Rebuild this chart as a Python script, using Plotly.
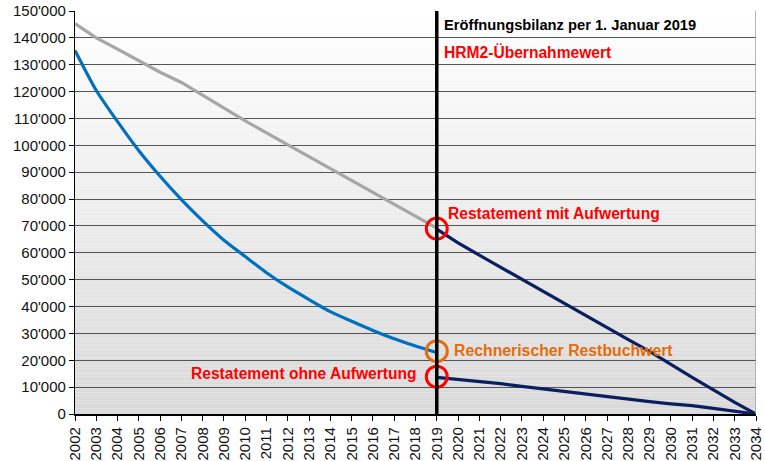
import plotly.graph_objects as go

# ---------------- data ----------------
years_hist = list(range(2002, 2020))
years_fut = list(range(2019, 2035))
x_tick_labels = [str(y) for y in range(2002, 2035)]
y_tick_vals = list(range(0, 150001, 10000))
y_tick_labels = ["0", "10'000", "20'000", "30'000", "40'000", "50'000", "60'000", "70'000",
                 "80'000", "90'000", "100'000", "110'000", "120'000", "130'000", "140'000", "150'000"]

grey_hist = [145300, 140000, 135800, 131500, 127200, 123400, 118600, 113900, 109100,
             104600, 100200, 95800, 91400, 86900, 82500, 78100, 73600, 69200]
blue_hist = [135300, 120400, 108800, 98000, 88500, 79800, 71900, 64700, 58600,
             52600, 47300, 42600, 38100, 34500, 31100, 28000, 25300, 22900]
navy_upper = [68800, 63700, 59100, 54600, 50000, 45400, 41000, 36400, 32000,
              27700, 23300, 18300, 13600, 9000, 4300, 0]
navy_lower = [13600, 12900, 12150, 11300, 10300, 9300, 8400, 7400, 6400,
              5600, 4600, 3800, 3100, 2100, 1200, 0]

circle_years = [2019, 2019, 2019]
circle_values = [69000, 23400, 13900]
circle_colors = ["#FF0000", "#E46C0A", "#FF0000"]

FONT = "Liberation Sans, Arial, sans-serif"
NAVY = "#0B1F5E"

fig = go.Figure()

fig.add_trace(go.Scatter(x=years_hist, y=grey_hist, mode="lines",
                         line=dict(color="#A6A6A6", width=3.2), hoverinfo="skip"))
fig.add_trace(go.Scatter(x=years_hist, y=blue_hist, mode="lines",
                         line=dict(color="#0070C0", width=3.2, shape="spline", smoothing=0.6),
                         hoverinfo="skip"))
fig.add_trace(go.Scatter(x=years_fut, y=navy_upper, mode="lines",
                         line=dict(color=NAVY, width=3.2), hoverinfo="skip"))
fig.add_trace(go.Scatter(x=years_fut, y=navy_lower, mode="lines",
                         line=dict(color=NAVY, width=3.2), hoverinfo="skip"))
fig.add_trace(go.Scatter(x=circle_years, y=circle_values, mode="markers",
                         marker=dict(symbol="circle-open", size=21, color=circle_colors,
                                     line=dict(width=3, color=circle_colors)),
                         cliponaxis=False, hoverinfo="skip"))

# gradient background (white at top -> light grey at bottom)
shapes = []
N = 150
ymax = 150000
for i in range(N):
    y0 = ymax * i / N
    y1 = ymax * (i + 1) / N
    t = (i + 0.5) / N
    g = int(round(217 + (255 - 217) * t))
    shapes.append(dict(type="rect", xref="x", yref="y", x0=2002, x1=2034, y0=y0, y1=y1,
                       fillcolor=f"rgb({g},{g},{g})", line=dict(width=0), layer="below"))
# right border
shapes.append(dict(type="line", xref="x", yref="y", x0=2034, x1=2034, y0=0, y1=ymax,
                   line=dict(color="#A0A0A0", width=1.5), layer="above"))
# vertical 2019 line
shapes.append(dict(type="line", xref="x", yref="y", x0=2019, x1=2019, y0=0, y1=ymax,
                   line=dict(color="#000000", width=3.5), layer="above"))

annotations = [
    dict(x=2019.25, y=144800, xref="x", yref="y", text="<b>Eröffnungsbilanz per 1. Januar 2019</b>",
         showarrow=False, xanchor="left", yanchor="middle",
         font=dict(family=FONT, size=14.7, color="#000000")),
    dict(x=2019.25, y=134800, xref="x", yref="y", text="<b>HRM2-Übernahmewert</b>",
         showarrow=False, xanchor="left", yanchor="middle",
         font=dict(family=FONT, size=15.6, color="#FF0000")),
    dict(x=2019.45, y=74600, xref="x", yref="y", text="<b>Restatement mit Aufwertung</b>",
         showarrow=False, xanchor="left", yanchor="middle",
         font=dict(family=FONT, size=15.6, color="#FF0000")),
    dict(x=2019.72, y=23800, xref="x", yref="y", text="<b>Rechnerischer Restbuchwert</b>",
         showarrow=False, xanchor="left", yanchor="middle",
         font=dict(family=FONT, size=15.8, color="#E46C0A")),
    dict(x=2018.15, y=15200, xref="x", yref="y", text="<b>Restatement ohne Aufwertung</b>",
         showarrow=False, xanchor="right", yanchor="middle",
         font=dict(family=FONT, size=15.6, color="#FF0000")),
]

fig.update_layout(
    width=765, height=461,
    margin=dict(l=75, r=9, t=11, b=47),
    paper_bgcolor="white", plot_bgcolor="rgba(0,0,0,0)",
    showlegend=False,
    shapes=shapes, annotations=annotations,
    font=dict(family=FONT, size=15, color="#111111"),
)
fig.update_xaxes(
    range=[2002, 2034], tickmode="array",
    tickvals=list(range(2002, 2035)), ticktext=x_tick_labels,
    tickangle=-90, ticks="outside", ticklen=5, tickcolor="#000000", tickwidth=1,
    showgrid=False, zeroline=False, automargin=False,
    showline=True, linecolor="#000000", linewidth=2.2,
    tickfont=dict(family=FONT, size=15, color="#111111"),
)
fig.update_yaxes(
    range=[0, ymax], tickmode="array",
    tickvals=y_tick_vals, ticktext=y_tick_labels,
    ticks="outside", ticklen=5, tickcolor="#000000", tickwidth=1,
    showgrid=True, gridcolor="#555555", gridwidth=1,
    zeroline=False, automargin=False,
    showline=True, linecolor="#000000", linewidth=1.2,
    tickfont=dict(family=FONT, size=15, color="#111111"),
)

fig.write_html(
    "out.html",
    config={"displayModeBar": False},
    post_script="document.body.style.margin='0';document.body.style.padding='0';"
                "document.documentElement.style.overflow='hidden';",
)
